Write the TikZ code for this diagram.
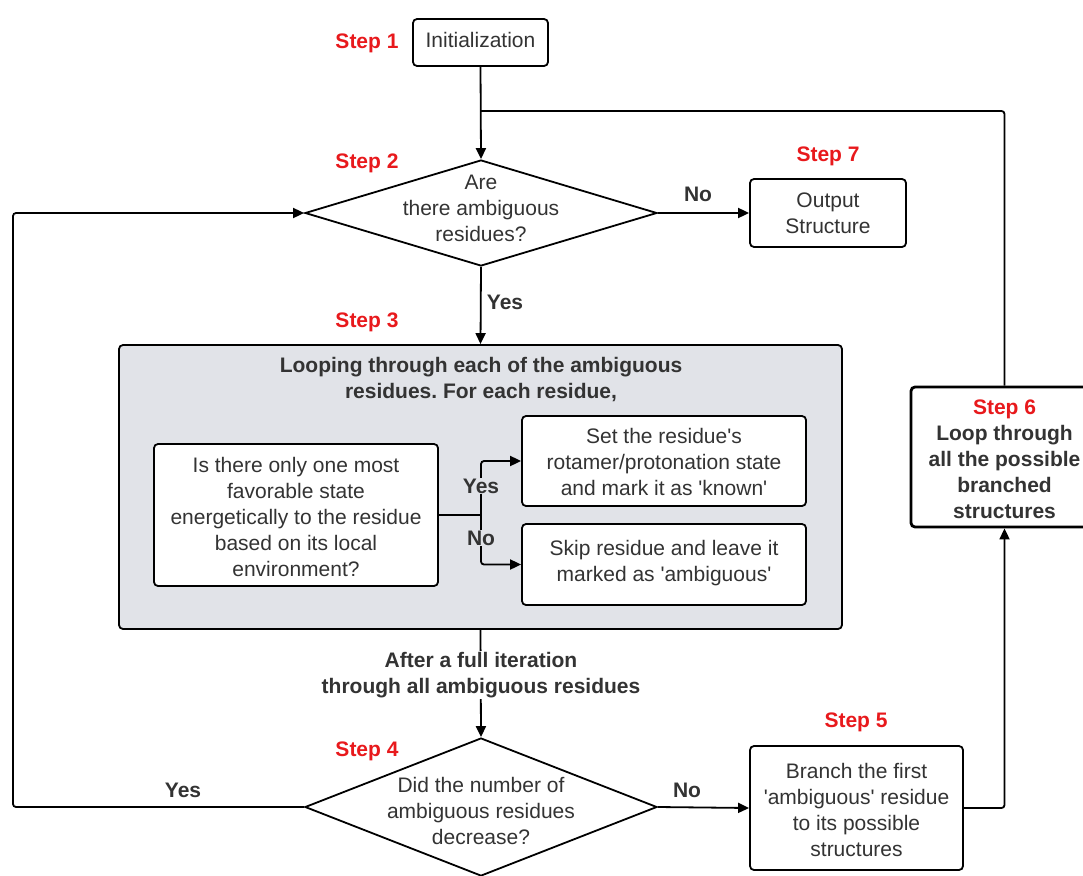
\documentclass[tikz,border=0pt]{standalone}
\usepackage{fontspec}
\setmainfont{Liberation Sans}[Ligatures=TeXOff]
\usetikzlibrary{arrows.meta,shapes.geometric}
\definecolor{txt}{HTML}{333333}
\definecolor{stepred}{HTML}{E8191C}
\definecolor{panel}{HTML}{E1E3E8}
\frenchspacing
\begin{document}
\begin{tikzpicture}[x=1pt,y=-1pt,
  every node/.style={font=\fontsize{21}{26}\selectfont, text=txt, align=center},
  box/.style={draw=black, line width=1.8pt, rounded corners=4pt, fill=white, inner sep=0pt},
  dia/.style={draw=black, line width=1.8pt, diamond, inner sep=0pt, fill=white},
  steplbl/.style={font=\fontsize{21}{26}\selectfont\bfseries, text=stepred},
  blbl/.style={font=\fontsize{21}{26}\selectfont\bfseries},
  conn/.style={draw=black, line width=1.8pt, rounded corners=3pt},
  arr/.style={conn, -{Triangle[length=11pt,width=10pt]}}
]
\useasboundingbox (0,0) rectangle (1083,875);

% nodes
\node[box, minimum width=135pt, minimum height=47pt] (init) at (480.5,42.5) {};
\node at (480.5,40) {Initialization};

\node[dia, minimum width=352pt, minimum height=106pt] (d2) at (481,213) {};
\node (d2t) at (481,208) {Are\\there ambiguous\\residues?};

\node[box, minimum width=156pt, minimum height=68pt] (out) at (828,213) {};
\node (outt) at (828,213) {Output\\Structure};

\node[box, fill=panel, minimum width=723pt, minimum height=284pt] (gray) at (480.5,487) {};
\node[blbl] (grayt) at (481,380) {Looping through each of the ambiguous\\residues. For each residue,};

\node[box, minimum width=284pt, minimum height=142pt] (q) at (296,515) {};
\node (qt) at (296,517) {Is there only one most\\favorable state\\energetically to the residue\\based on its local\\environment?};

\node[box, minimum width=284pt, minimum height=90pt] (setb) at (664,461) {};
\node (sett) at (664,462) {Set the residue's\\rotamer/protonation state\\and mark it as 'known'};

\node[box, minimum width=284pt, minimum height=81pt] (skip) at (664,564.5) {};
\node (skipt) at (664,563) {Skip residue and leave it\\marked as 'ambiguous'};

\node[dia, minimum width=352pt, minimum height=138pt] (d4) at (481,807) {};
\node (d4t) at (481,811) {Did the number of\\ambiguous residues\\decrease?};

\node[box, minimum width=213pt, minimum height=124pt] (s5) at (856.5,808) {};
\node (s5t) at (856.5,809.5) {Branch the first\\'ambiguous' residue\\to its possible\\structures};

\node[box, line width=2.8pt, minimum width=187pt, minimum height=140pt] (s6) at (1004.5,457) {};
\node[blbl] (s6t) at (1004.5,459) {\textcolor{stepred}{Step 6}\\Loop through\\all the possible\\branched\\structures};

% step labels
\node[steplbl] (st1) at (367,43) {Step 1};
\node[steplbl] (st2) at (367,163) {Step 2};
\node[steplbl] (st3) at (367,322) {Step 3};
\node[steplbl] (st4) at (367,751) {Step 4};
\node[steplbl] (st5) at (856,722) {Step 5};
\node[steplbl] (st7) at (828,156) {Step 7};

% coordinates
\coordinate (j) at (481,111);
\coordinate (fork) at (481,515);
\coordinate (lft) at (13,807);

% connectors
\draw[arr] (init.south) -- (d2.north);
\draw[conn] (s6.north) |- (j);
\draw[arr] (d2.east) -- (out.west);
\node[blbl] (no1) at (698,194) {No};
\draw[arr] (d2.south) -- (gray.north);
\node[blbl] (yes1) at (505,302) {Yes};

\draw[conn] (q.east |- fork) -- (fork);
\draw[arr] (fork) |- (setb.west);
\draw[arr] (fork) |- (skip.west);
\node[blbl, fill=panel, inner sep=1pt] (yes2) at (481,486) {Yes};
\node[blbl, fill=panel, inner sep=1pt] (no2) at (481,538) {No};

\draw[arr] (gray.south) -- (d4.north);
\node[blbl, fill=white, inner sep=1pt] (iter) at (481,675) {After a full iteration\\through all ambiguous residues};

\draw[arr] (d4.west) -- (lft) |- (d2.west);
\node[blbl] (yes3) at (183,790) {Yes};
\draw[arr] (d4.east) -- (s5.west);
\node[blbl] (no3) at (687,790) {No};
\draw[arr] (s5.east) -| (s6.south);
\end{tikzpicture}
\end{document}
